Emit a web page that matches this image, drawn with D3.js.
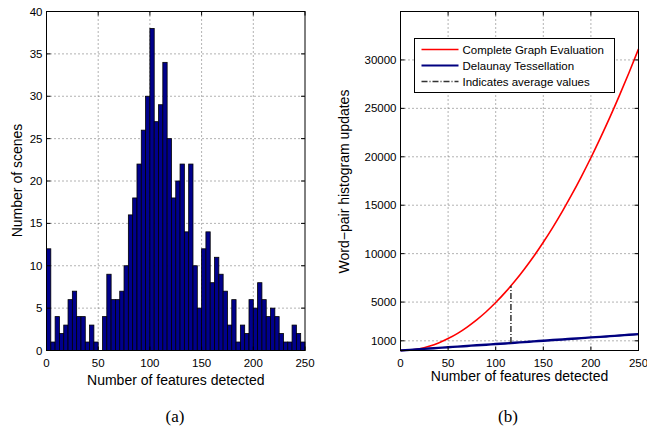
<!DOCTYPE html>
<html>
<head>
<meta charset="utf-8">
<script src="https://cdn.jsdelivr.net/npm/d3@7"></script>
<style>
  body { margin: 0; background: #fff; }
  text { font-family: "Liberation Sans", Arial, sans-serif; fill: #000; }
  text.cap { font-family: "Liberation Serif", "Times New Roman", serif; }
</style>
</head>
<body>
<div id="chart"></div>
<script>
// histogram (a): 60 bins over 0..250
var binCounts = [12,1,4,2,3,6,7,4,4,1, 3,1,0,4,9,6,6,7,10,16,
                 18,22,26,30,38,27,29,34,25,18, 20,22,14,22,10,5,12,14,8,11,
                 9,7,3,6,1,3,2,6,5,8, 6,4,5,4,2,1,1,3,2,1];
var histTicksX = [0, 50, 100, 150, 200, 250];
var histTicksY = [0, 5, 10, 15, 20, 25, 30, 35, 40];

// curves (b)
var nFeatures = [0,10,20,30,40,50,60,70,80,90,100,110,120,130,140,150,160,170,180,190,200,210,220,230,240,250];
var completeGraph = [0,50,190,440,780,1230,1770,2420,3160,4000,4950,6000,7140,8390,9730,11180,12720,14370,16110,17960,19900,21950,24090,26340,28680,31130];
var delaunay = [0,60,130,200,270,340,400,470,540,600,670,730,800,870,940,1010,1080,1140,1210,1280,1350,1410,1480,1550,1620,1690];
var avgFeatures = 116;
var avgRange = [770, 6680];
var curveTicksX = [0, 50, 100, 150, 200, 250];
var curveTicksY = [1000, 5000, 10000, 15000, 20000, 25000, 30000];
var legendLabels = ["Complete Graph Evaluation", "Delaunay Tessellation", "Indicates average values"];

var svg = d3.select("#chart").append("svg")
    .attr("width", 647).attr("height", 433)
    .style("background", "#fff");

function drawGrid(g, x, y, xt, yt) {
    var w = x.range()[1], h = y.range()[0];
    // dotted grid
    g.selectAll(".gx").data(xt.filter(function (d) { return x(d) > 0.5 && x(d) < w - 0.5; }))
        .enter().append("line")
        .attr("x1", function (d) { return x(d); }).attr("x2", function (d) { return x(d); })
        .attr("y1", 0).attr("y2", h)
        .attr("stroke", "#666").attr("stroke-dasharray", "1,3");
    g.selectAll(".gy").data(yt.filter(function (d) { return y(d) > 0.5 && y(d) < h - 0.5; }))
        .enter().append("line")
        .attr("y1", function (d) { return y(d); }).attr("y2", function (d) { return y(d); })
        .attr("x1", 0).attr("x2", w)
        .attr("stroke", "#666").attr("stroke-dasharray", "1,3");
}

function drawAxes(g, x, y, xt, yt) {
    var w = x.range()[1], h = y.range()[0];
    g.append("rect").attr("width", w).attr("height", h)
        .attr("fill", "none").attr("stroke", "#000").attr("stroke-width", 1);
    // inside ticks on all four sides
    xt.forEach(function (d) {
        g.append("line").attr("x1", x(d)).attr("x2", x(d)).attr("y1", h).attr("y2", h - 4).attr("stroke", "#000");
        g.append("line").attr("x1", x(d)).attr("x2", x(d)).attr("y1", 0).attr("y2", 4).attr("stroke", "#000");
        g.append("text").attr("x", x(d)).attr("y", h + 16)
            .attr("text-anchor", "middle").style("font-size", "11.5px").text(d);
    });
    yt.forEach(function (d) {
        g.append("line").attr("x1", 0).attr("x2", 4).attr("y1", y(d)).attr("y2", y(d)).attr("stroke", "#000");
        g.append("line").attr("x1", w).attr("x2", w - 4).attr("y1", y(d)).attr("y2", y(d)).attr("stroke", "#000");
        g.append("text").attr("x", -4).attr("y", y(d) + 4)
            .attr("text-anchor", "end").style("font-size", "11.5px").text(d);
    });
}

// ---------- (a) histogram ----------
var ga = svg.append("g").attr("transform", "translate(46.5,11.5)");
var xa = d3.scaleLinear().domain([0, 250]).range([0, 258.5]);
var ya = d3.scaleLinear().domain([0, 40]).range([339, 0]);
drawGrid(ga, xa, ya, histTicksX, histTicksY);

var binW = 250 / binCounts.length;
ga.selectAll(".bar").data(binCounts).enter().append("rect")
    .attr("x", function (d, i) { return xa(i * binW); })
    .attr("width", function (d, i) { return xa((i + 1) * binW) - xa(i * binW); })
    .attr("y", function (d) { return ya(d); })
    .attr("height", function (d) { return ya(0) - ya(d); })
    .attr("fill", "#00008c").attr("stroke", "#000").attr("stroke-width", 0.8);

drawAxes(ga, xa, ya, histTicksX, histTicksY);

ga.append("text").attr("x", xa(125)).attr("y", 339 + 34)
    .attr("text-anchor", "middle").style("font-size", "14px").text("Number of features detected");
ga.append("text").attr("transform", "translate(-25," + 169 + ")rotate(-90)")
    .attr("text-anchor", "middle").style("font-size", "14px").text("Number of scenes");
svg.append("text").attr("class", "cap").attr("x", 175).attr("y", 422)
    .attr("text-anchor", "middle").style("font-size", "17px").text("(a)");

// ---------- (b) curves ----------
var gb = svg.append("g").attr("transform", "translate(400.5,11.5)");
var xb = d3.scaleLinear().domain([0, 250]).range([0, 238]);
var yb = d3.scaleLinear().domain([0, 35000]).range([339, 0]);
drawGrid(gb, xb, yb, curveTicksX, curveTicksY);

var line = d3.line()
    .x(function (d) { return xb(d[0]); })
    .y(function (d) { return yb(d[1]); })
    .curve(d3.curveMonotoneX);

gb.append("path").datum(d3.zip(nFeatures, completeGraph))
    .attr("d", line).attr("fill", "none").attr("stroke", "#ff0000").attr("stroke-width", 1.6);
gb.append("path").datum(d3.zip(nFeatures, delaunay))
    .attr("d", line).attr("fill", "none").attr("stroke", "#000080").attr("stroke-width", 2.4);
gb.append("line")
    .attr("x1", xb(avgFeatures)).attr("x2", xb(avgFeatures))
    .attr("y1", yb(avgRange[0])).attr("y2", yb(avgRange[1]))
    .attr("stroke", "#222").attr("stroke-width", 1.4).attr("stroke-dasharray", "6,2,1,2");

drawAxes(gb, xb, yb, curveTicksX, curveTicksY);

gb.append("text").attr("x", xb(125)).attr("y", 339 + 30)
    .attr("text-anchor", "middle").style("font-size", "14px").text("Number of features detected");
gb.append("text").attr("transform", "translate(-52," + 170 + ")rotate(-90)")
    .attr("text-anchor", "middle").style("font-size", "14px").text("Word\u2212pair histogram updates");
svg.append("text").attr("class", "cap").attr("x", 508).attr("y", 422)
    .attr("text-anchor", "middle").style("font-size", "17px").text("(b)");

// legend
var lg = svg.append("g").attr("transform", "translate(414.5,38.5)");
lg.append("rect").attr("width", 200).attr("height", 54)
    .attr("fill", "#fff").attr("stroke", "#000");
var styles = [
    { c: "#ff0000", w: 1.6, dash: null },
    { c: "#000080", w: 1.8, dash: null },
    { c: "#333", w: 1.4, dash: "6,2,1,2" }
];
legendLabels.forEach(function (t, i) {
    var yy = 11 + i * 16;
    lg.append("line").attr("x1", 7).attr("x2", 44).attr("y1", yy).attr("y2", yy)
        .attr("stroke", styles[i].c).attr("stroke-width", styles[i].w)
        .attr("stroke-dasharray", styles[i].dash);
    lg.append("text").attr("x", 48).attr("y", yy + 4)
        .style("font-size", "11.5px").text(t);
});
</script>
</body>
</html>
